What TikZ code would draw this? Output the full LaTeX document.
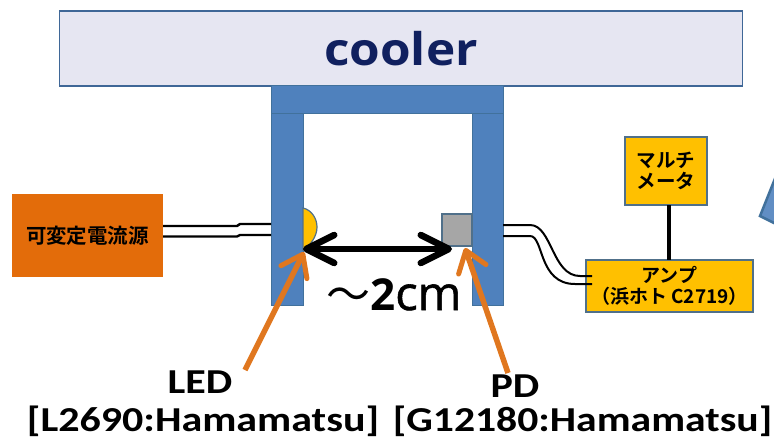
\documentclass[tikz,border=0pt]{standalone}
\usepackage{fontspec}
\usepackage{graphicx}
\setmainfont{Carlito}
\newfontfamily\cjk{Noto Sans CJK JP}[BoldFont={Noto Sans CJK JP Bold}]
\newfontfamily\osans{Open Sans}[BoldFont={Open Sans Bold}]
\newfontfamily\osfake{Open Sans}[FakeBold=1.2]
\usetikzlibrary{arrows.meta}
\definecolor{blk}{HTML}{4F81BD}
\definecolor{blkedge}{HTML}{41719C}
\definecolor{coolfill}{HTML}{E6E6F2}
\definecolor{coolerline}{HTML}{3F6797}
\definecolor{orng}{HTML}{E36C0A}
\definecolor{arrowo}{HTML}{E0771F}
\definecolor{yel}{HTML}{FFC000}
\definecolor{yedge}{HTML}{50708A}
\definecolor{navy}{HTML}{10205F}
\tikzset{
 x=1pt,y=-1pt,
 blockpart/.style={draw=blkedge,line width=0.8pt,fill=blk,inner sep=0pt,outer sep=0pt},
 ybox/.style={draw=yedge,line width=1.2pt,fill=yel,inner sep=0pt,outer sep=0pt,align=center},
 wire/.style={line width=2.4pt,black},
 thinwire/.style={line width=2pt,black},
 callout/.style={line width=5.5pt,arrowo,-{Straight Barb[length=20pt,width=29pt,line width=5pt,round]}},
 lab/.style={inner sep=0pt,font=\fontsize{35}{38}\selectfont\bfseries,text=black},
 amptext/.style={font=\cjk\bfseries\fontsize{19}{21}\selectfont}
}
\begin{document}
\begin{tikzpicture}
\useasboundingbox (0,0) rectangle (774,440);
\node[draw=coolerline,line width=1.4pt,fill=coolfill,minimum width=683pt,minimum height=75pt,inner sep=0pt,font=\osans\bfseries\fontsize{45}{48}\selectfont,text=navy] (cooler) at (401,48.5) {\scalebox{1.1}[1]{cooler}};
\node[blockpart,minimum width=32pt,minimum height=220pt] (left) at (287,195) {};
\node[blockpart,minimum width=31pt,minimum height=220pt] (right) at (487.5,195) {};
\node[blockpart,minimum width=232pt,minimum height=28pt] (top) at (387,99) {};
\draw[draw=yedge,line width=1.2pt,fill=yel] (303,208) .. controls (312,210) and (317,219) .. (317,227) .. controls (317,236) and (311,245) .. (303,250) -- cycle;
\node[draw=yedge,line width=1.2pt,fill=black!35,minimum width=30pt,minimum height=32pt,inner sep=0pt] (pd) at (457,230) {};
\node[fill=orng,minimum width=151pt,minimum height=83pt,inner sep=0pt,font=\cjk\bfseries\fontsize{20.5}{22}\selectfont] (src) at (87.5,235.5) {可変定電流源};
\draw[wire] (src.east|-0,226) -- (237,226) -- (240,224) -- (left.west|-0,224);
\draw[wire] (src.east|-0,236.5) -- (237,236.5) -- (240,235) -- (left.west|-0,235);
\node[ybox,minimum width=82pt,minimum height=68pt,font=\cjk\bfseries\fontsize{19.5}{21}\selectfont] (multi) at (666,171) {マルチ\\メータ};
\node[ybox,minimum width=167pt,minimum height=52pt,amptext] (amp) at (669.5,286) {アンプ\\（浜ホト C2719）};
\draw[line width=4pt] (multi.south-|669,0) -- (amp.north-|669,0);
\draw[thinwire] (right.east|-0,225) -- (530,225) .. controls (552,225) and (552,276) .. (580,276) -- (592,276);
\draw[thinwire] (right.east|-0,236) -- (530,236) .. controls (544,236) and (538,284) .. (575,284) -- (592,284);
\coordinate (ledt) at (304,252);
\coordinate (pdt) at (465,248);
\coordinate (ledf) at (245,370);
\coordinate (pdf) at (508,373);
\draw[callout] (ledf) -- (ledt);
\draw[callout] (pdf) -- (pdt);
\coordinate (arrL) at (303,249);
\coordinate (arrR) at (452,249);
\draw[line width=6pt,{Straight Barb[length=28pt,width=28pt,line width=6.5pt,round]}-{Straight Barb[length=28pt,width=28pt,line width=6.5pt,round]}] (arrL) -- (arrR);
\node[inner sep=0pt,anchor=base west,font=\fontsize{44}{46}\selectfont] (dist) at (326,310) {\cjk ～\osans\bfseries 2\osfake\mdseries\fontsize{47}{48}\selectfont cm};
\node[lab] (ledlab) at (200,382) {\scalebox{1.2}[1]{LED}};
\node[lab] (pdlab) at (515,386) {\scalebox{1.2}[1]{PD}};
\node[lab] (leds) at (203,421) {\scalebox{1.2}[1]{[L2690:Hamamatsu]}};
\node[lab] (pds) at (582.5,421) {\scalebox{1.19}[1]{[G12180:Hamamatsu]}};
\filldraw[fill=blk!90!white,draw=blkedge,line width=2.5pt] (776,176) -- (760,216) -- (776,224) -- cycle;
\end{tikzpicture}
\end{document}
